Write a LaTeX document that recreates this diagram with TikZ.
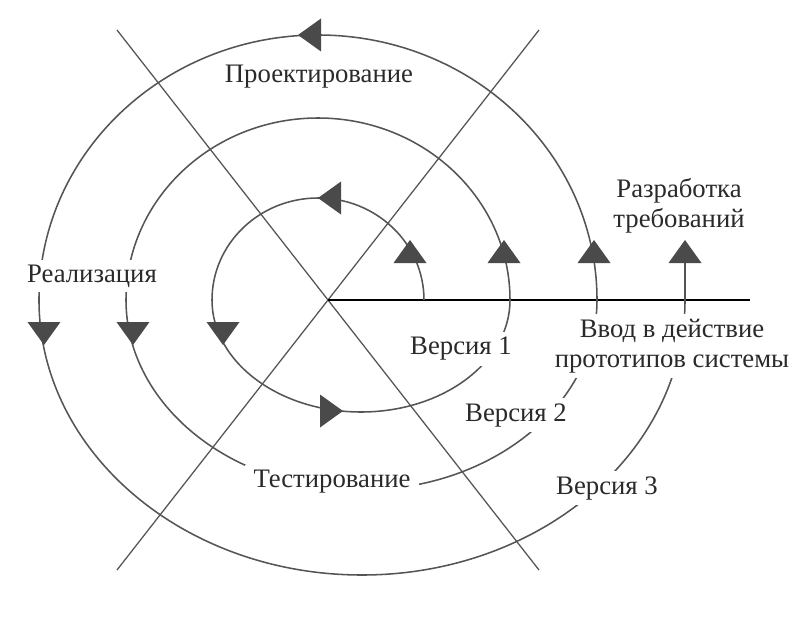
\documentclass[tikz,border=0pt]{standalone}
\usepackage{fontspec}
\setmainfont{Liberation Serif}
\usepackage{tikz}
\usetikzlibrary{positioning}
\definecolor{linegray}{HTML}{555555}
\definecolor{tipgray}{HTML}{4A4A4A}
\definecolor{textgray}{HTML}{2A2A2A}
\newcommand{\arrowtri}[3]{\fill[tipgray, rotate around={#3:(#1,#2)}] (#1,#2) -- ++(-23,16.5) -- ++(0,-33) -- cycle;}

\begin{document}
\begin{tikzpicture}[x=0.025cm, y=0.025cm,
    axis/.style={linegray, line width=0.9pt},
    spiral/.style={linegray, line width=1.1pt},
    stage/.style={fill=white, inner xsep=6pt, inner ysep=3.5pt, text=textgray, align=center,
      font=\fontsize{19}{21.5}\selectfont}]
    \useasboundingbox (-328,-319) rectangle (472,300);
    % the two cross lines and the start line
    \draw[axis] (-211,270) -- (211,-270);
    \draw[axis] (211,270) -- (-211,-270);
    \draw[black, line width=2pt] (0,0) -- (422,0);
    % spiral, three turns
    \draw[spiral] (96,0)
    arc[start angle=0, end angle=180, x radius=106, y radius=102]
    arc[start angle=180, end angle=360, x radius=149, y radius=112]
    arc[start angle=0, end angle=180, x radius=192, y radius=182]
    arc[start angle=180, end angle=360, x radius=235.5, y radius=190]
    arc[start angle=0, end angle=180, x radius=279, y radius=265]
    arc[start angle=180, end angle=360, x radius=323, y radius=275]
    -- (357,40);
    \node[stage] (proj) at (-9,223) {Проектирование};
    \node[stage] (treb) at (351,94) {Разработка\\требований};
    \node[stage] (real) at (-236,24) {Реализация};
    \node[stage] (test) at (4,-182) {Тестирование};
    \node[stage] (v1) at (133,-49) {Версия 1};
    \node[stage] (v2) at (188,-115) {Версия 2};
    \node[stage] (v3) at (279,-188) {Версия 3};
    \node[stage] (vvod) at (344,-46) {Ввод в действие\\прототипов системы};
    % arrow heads
    \arrowtri{82}{60}{90}
    \arrowtri{176}{60}{90}
    \arrowtri{266}{60}{90}
    \arrowtri{357}{60}{90}
    \arrowtri{-10}{102}{180}
    \arrowtri{-30}{265}{180}
    \arrowtri{-284}{-45}{-90}
    \arrowtri{-195}{-45}{-90}
    \arrowtri{-105}{-45}{-90}
    \arrowtri{15}{-111}{0}
\end{tikzpicture}
\end{document}
